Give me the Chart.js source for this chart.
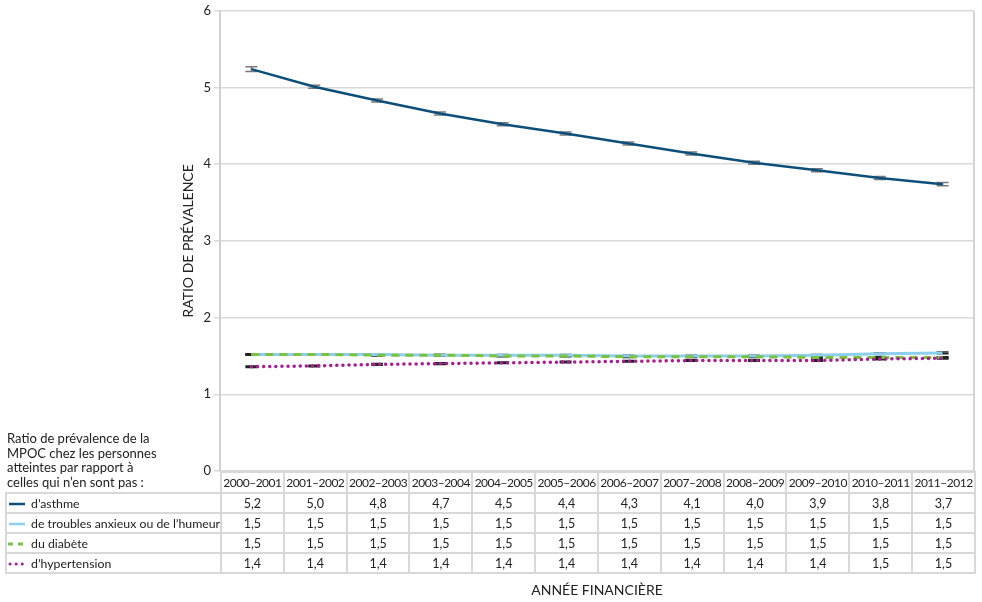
<!DOCTYPE html>
<html lang="fr">
<head>
<meta charset="UTF-8">
<title>Ratio de prévalence de la MPOC</title>
<script src="https://cdn.jsdelivr.net/npm/chart.js"></script>
<style>
  body { margin: 0; background: #fff; font-family: Lato, "Open Sans", sans-serif; color: #222; }
  #wrap { position: relative; width: 982px; height: 602px; }
  #chart { position: absolute; left: 0; top: 0; }
  #legendTitle { position: absolute; left: 7px; top: 431px; width: 205px; font-size: 13px; line-height: 14.6px; }
  #dataTable { position: absolute; left: 5px; top: 471px; border-collapse: collapse; table-layout: fixed; font-size: 12.5px; }
  #dataTable td { border: 2px solid #d8d8d8; text-align: center; padding: 0; height: 18px; white-space: nowrap; overflow: visible; }
  #dataTable tr.head td { height: 19px; font-size: 12px; letter-spacing: -0.5px; }
  #dataTable td.corner { border-top: none; border-left: none; }
  #dataTable td.name { text-align: left; padding-left: 1px; font-size: 12.3px; letter-spacing: 0; }
  #dataTable svg { vertical-align: middle; margin-right: 5px; }
  #xTitle { position: absolute; top: 581px; font-size: 14px; text-align: center; }
</style>
</head>
<body>
<div id="wrap">
  <canvas id="chart" width="982" height="602"></canvas>
  <div id="legendTitle">Ratio de prévalence de la<br>MPOC chez les personnes<br>atteintes par rapport à<br>celles qui n’en sont pas :</div>
  <table id="dataTable"></table>
  <div id="xTitle">ANNÉE FINANCIÈRE</div>
</div>

<script>
  // années financières
  const years = ["2000–2001", "2001–2002", "2002–2003", "2003–2004", "2004–2005", "2005–2006",
                 "2006–2007", "2007–2008", "2008–2009", "2009–2010", "2010–2011", "2011–2012"];

  // ratios de prévalence
  const asthme       = [5.24, 5.01, 4.83, 4.66, 4.52, 4.40, 4.27, 4.14, 4.02, 3.92, 3.82, 3.74];
  const anxieux      = [1.52, 1.52, 1.52, 1.51, 1.51, 1.51, 1.50, 1.50, 1.50, 1.51, 1.53, 1.54];
  const diabete      = [1.52, 1.52, 1.51, 1.51, 1.50, 1.50, 1.49, 1.49, 1.49, 1.48, 1.48, 1.48];
  const hypertension = [1.36, 1.37, 1.39, 1.40, 1.41, 1.42, 1.43, 1.44, 1.44, 1.44, 1.46, 1.47];

  // demi-largeur des intervalles de confiance
  const asthmeErr       = [0.03, 0.02, 0.02, 0.02, 0.02, 0.02, 0.02, 0.02, 0.02, 0.02, 0.02, 0.02];
  const anxieuxErr      = [0.01, 0.01, 0.01, 0.01, 0.01, 0.01, 0.01, 0.01, 0.01, 0.01, 0.01, 0.01];
  const diabeteErr      = [0.01, 0.01, 0.01, 0.01, 0.01, 0.01, 0.01, 0.01, 0.01, 0.01, 0.01, 0.01];
  const hypertensionErr = [0.01, 0.01, 0.01, 0.01, 0.01, 0.01, 0.01, 0.01, 0.01, 0.01, 0.01, 0.01];

  const seriesNames = ["d’asthme", "de troubles anxieux ou de l’humeur", "du diabète", "d’hypertension"];

  const errorBars = {
    id: "errorBars",
    beforeDatasetsDraw(chart) {
      const ctx = chart.ctx;
      const y = chart.scales.y;
      chart.data.datasets.forEach((ds, i) => {
        if (!ds.err) return;
        const meta = chart.getDatasetMeta(i);
        ctx.save();
        ctx.strokeStyle = ds.errColor;
        ctx.lineWidth = 1.5;
        meta.data.forEach((pt, j) => {
          const hi = y.getPixelForValue(ds.data[j] + ds.err[j]);
          const lo = y.getPixelForValue(ds.data[j] - ds.err[j]);
          ctx.beginPath();
          ctx.moveTo(pt.x, hi); ctx.lineTo(pt.x, lo);
          ctx.moveTo(pt.x - 6, hi); ctx.lineTo(pt.x + 6, hi);
          ctx.moveTo(pt.x - 6, lo); ctx.lineTo(pt.x + 6, lo);
          ctx.stroke();
        });
        ctx.restore();
      });
    }
  };

  const rightBorder = {
    id: "rightBorder",
    beforeDatasetsDraw(chart) {
      const a = chart.chartArea, ctx = chart.ctx;
      ctx.save();
      ctx.strokeStyle = "#d4d4d4";
      ctx.lineWidth = 2;
      ctx.beginPath();
      ctx.moveTo(a.right, a.top);
      ctx.lineTo(a.right, a.bottom);
      ctx.stroke();
      ctx.restore();
    }
  };

  const colors = ["#0e4f7a", "#8dcff0", "#7cc242", "#a3228f"];

  const chart = new Chart(document.getElementById("chart"), {
    type: "line",
    data: {
      labels: years,
      datasets: [
        { label: seriesNames[0], data: asthme, err: asthmeErr, errColor: "#7a7a7a",
          borderColor: colors[0], borderWidth: 2.5, order: 0 },
        { label: seriesNames[1], data: anxieux, err: anxieuxErr, errColor: "#222",
          borderColor: colors[1], borderWidth: 3, order: 3 },
        { label: seriesNames[2], data: diabete, err: diabeteErr, errColor: "#222",
          borderColor: colors[2], borderWidth: 3, borderDash: [8, 6], order: 2 },
        { label: seriesNames[3], data: hypertension, err: hypertensionErr, errColor: "#222",
          borderColor: colors[3], borderWidth: 3.5, borderDash: [0.1, 6], borderCapStyle: "round", order: 1 }
      ]
    },
    options: {
      responsive: false,
      animation: false,
      events: [],
      elements: { point: { radius: 0 }, line: { tension: 0 } },
      layout: { padding: { left: 176, top: 8, right: 8, bottom: 131 } },
      plugins: { legend: { display: false }, tooltip: { enabled: false } },
      scales: {
        x: { display: false, offset: true },
        y: {
          min: 0, max: 6,
          ticks: { stepSize: 1, color: "#222", padding: 3, font: { family: "Lato", size: 13 } },
          grid: { color: "#d9d9d9", lineWidth: 1.5, tickLength: 6 },
          border: { color: "#d0d0d0", width: 2 },
          title: { display: true, text: "RATIO DE PRÉVALENCE", color: "#222", font: { family: "Lato", size: 14 } },
          afterFit(scale) { scale.width = 44; }
        }
      }
    },
    plugins: [errorBars, rightBorder]
  });

  // tableau de données sous le graphique
  const area = chart.chartArea;
  const colW = (area.right - area.left) / years.length;
  const table = document.getElementById("dataTable");
  let html = "<colgroup><col style='width:" + (area.left - 5) + "px'>";
  years.forEach(() => { html += "<col style='width:" + colW + "px'>"; });
  html += "</colgroup><tr class='head'><td class='corner'></td>";
  years.forEach(yr => { html += "<td>" + yr + "</td>"; });
  html += "</tr>";

  const samples = [
    "<line x1='1' y1='3' x2='17' y2='3' stroke='" + colors[0] + "' stroke-width='2.5'/>",
    "<line x1='1' y1='3' x2='17' y2='3' stroke='" + colors[1] + "' stroke-width='2.5'/>",
    "<line x1='0' y1='3' x2='18' y2='3' stroke='" + colors[2] + "' stroke-width='3' stroke-dasharray='5 5'/>",
    "<line x1='2' y1='3' x2='18' y2='3' stroke='" + colors[3] + "' stroke-width='3' stroke-linecap='round' stroke-dasharray='0.1 6'/>"
  ];
  const allSeries = [asthme, anxieux, diabete, hypertension];
  allSeries.forEach((vals, i) => {
    html += "<tr><td class='name'><svg width='18' height='6'>" + samples[i] + "</svg>" + seriesNames[i] + "</td>";
    vals.forEach(v => { html += "<td>" + v.toFixed(1).replace(".", ",") + "</td>"; });
    html += "</tr>";
  });
  table.innerHTML = html;
  table.style.width = (area.right - 5) + "px";

  const xTitle = document.getElementById("xTitle");
  xTitle.style.left = area.left + "px";
  xTitle.style.width = (area.right - area.left) + "px";
</script>
</body>
</html>
